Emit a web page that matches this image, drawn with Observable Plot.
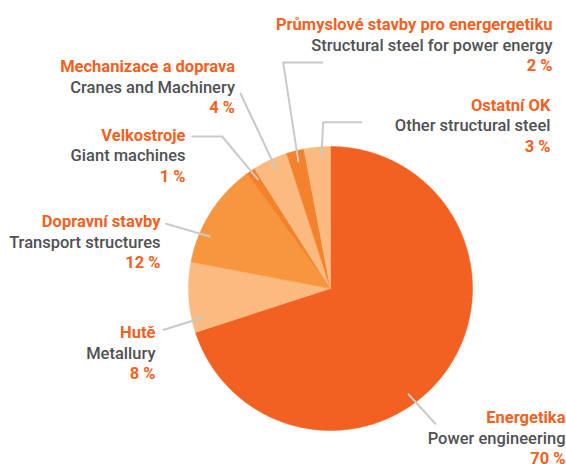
<!DOCTYPE html>
<html>
<head>
<meta charset="utf-8">
<script src="https://cdn.jsdelivr.net/npm/d3@7"></script>
<script src="https://cdn.jsdelivr.net/npm/@observablehq/plot@0.6"></script>
<style>
  html, body { margin: 0; padding: 0; background: #ffffff; }
  #chart { width: 566px; height: 464px; }
</style>
</head>
<body>
<div id="chart"></div>
<script>
// ---- data ----
const names = ["Energetika", "Hutě", "Dopravní stavby", "Velkostroje", "Mechanizace a doprava", "Průmyslové stavby pro energergetiku", "Ostatní OK"];
const english = ["Power engineering", "Metallury", "Transport structures", "Giant machines", "Cranes and Machinery", "Structural steel for power energy", "Other structural steel"];
const shares = [70, 8, 12, 1, 4, 2, 3];
const pctLabels = ["70 %", "8 %", "12 %", "1 %", "4 %", "2 %", "3 %"];
const sliceColors = ["#f26122", "#fbbb80", "#f7963f", "#f4822c", "#fbbb80", "#f4822c", "#fbbb80"];

// ---- layout (annotation positions, in pixels) ----
const CX = 330, CY = 288, R = 142;
const labelAnchors = [[565, 422.3], [155, 337.7], [160, 226.7], [185, 140], [234.5, 71.7], [552, 29.3], [550, 110]];
const leaderOuter = [
  [[435, 423.3]],
  [[163.3, 329.3]],
  [[165.7, 223.3]],
  [[191.7, 136], [221.7, 136]],
  [[240, 93]],
  [[322, 62], [282.7, 62]],
  [[361, 121.7], [322.7, 121.7]]
];
const leaderAngle = [143.6, 257.1, 293.3, 326.3, 335.5, 345.8, 356];

const toX = px => (px - CX) / R;
const toY = py => (CY - py) / R;

// slices as polygons on the unit circle (clockwise from 12 o'clock)
const total = d3.sum(shares);
const slicePts = [];
let acc = 0;
names.forEach((n, i) => {
  const a0 = acc / total * 2 * Math.PI;
  acc += shares[i];
  const a1 = acc / total * 2 * Math.PI;
  const steps = Math.max(2, Math.ceil((a1 - a0) / (Math.PI / 360)));
  slicePts.push({name: n, x: 0, y: 0});
  for (let k = 0; k <= steps; k++) {
    const a = a0 + (a1 - a0) * k / steps;
    slicePts.push({name: n, x: Math.sin(a), y: Math.cos(a)});
  }
  slicePts.push({name: n, x: 0, y: 0});
});

const leaderPts = [];
names.forEach((n, i) => {
  leaderOuter[i].forEach(([px, py]) => leaderPts.push({id: n, x: toX(px), y: toY(py)}));
  const a = leaderAngle[i] * Math.PI / 180;
  leaderPts.push({id: n, x: 0.925 * Math.sin(a), y: 0.925 * Math.cos(a)});
});

const labels = names.map((n, i) => ({
  name: n, en: english[i], pct: pctLabels[i],
  x: toX(labelAnchors[i][0]), y: toY(labelAnchors[i][1])
}));

const orange = "#f26122", gray = "#505153";
const fs = 16.5;

const chart = Plot.plot({
  width: 566,
  height: 464,
  margin: 0,
  x: {domain: [-1, 1], range: [CX - R, CX + R], axis: null},
  y: {domain: [-1, 1], range: [CY + R, CY - R], axis: null},
  color: {domain: names, range: sliceColors},
  style: {fontFamily: "Roboto, 'Open Sans', sans-serif", background: "#ffffff"},
  marks: [
    Plot.line(slicePts, {x: "x", y: "y", z: "name", fill: "name", stroke: "name", strokeWidth: 0.5, curve: "linear"}),
    Plot.line(leaderPts, {x: "x", y: "y", z: "id", stroke: "#c9c9c9", strokeWidth: 2, curve: "linear"}),
    Plot.text(labels, {x: "x", y: "y", text: "name", textAnchor: "end", lineAnchor: "bottom", fill: orange, fontWeight: 700, fontSize: fs}),
    Plot.text(labels, {x: "x", y: "y", text: "en", dy: 20.7, textAnchor: "end", lineAnchor: "bottom", fill: gray, fontWeight: 500, fontSize: fs}),
    Plot.text(labels, {x: "x", y: "y", text: "pct", dy: 41, textAnchor: "end", lineAnchor: "bottom", fill: orange, fontWeight: 700, fontSize: fs})
  ]
});
document.getElementById("chart").appendChild(chart);
</script>
</body>
</html>
